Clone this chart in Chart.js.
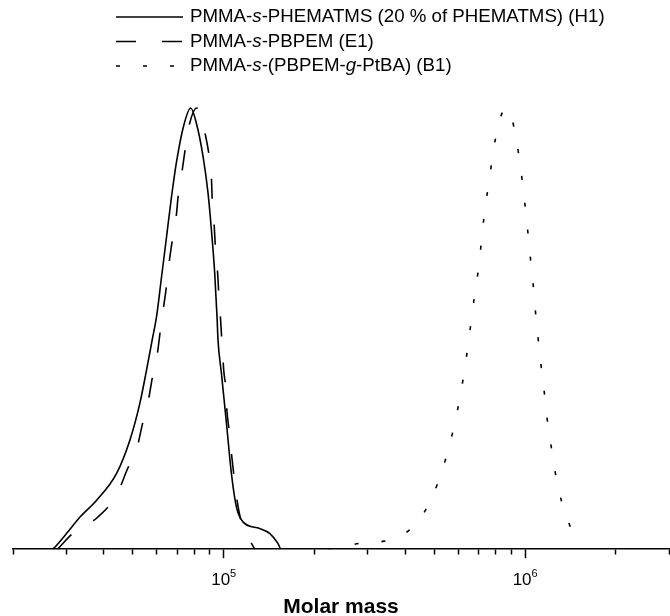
<!DOCTYPE html>
<html>
<head>
<meta charset="utf-8">
<script src="https://cdn.jsdelivr.net/npm/chart.js@4"></script>
<style>
  body { margin: 0; background: #fff; }
  #wrap { width: 670px; height: 616px; position: relative; }
</style>
</head>
<body>
<div id="wrap"><canvas id="sec-chart"></canvas></div>
<script>
// Molar mass (g/mol) and normalised detector signal
const h1Mass = [27000, 27570, 30140, 33370, 37880, 44130, 48830, 52720, 55460, 57890, 59870, 62190, 64620, 67120, 69730, 73720, 77730, 81200, 85420, 88720, 91050, 93370, 95020, 95740, 98260, 102100, 106050, 110170, 115860, 131560, 142000, 151300, 154400];
const h1Signal = [0, 0.005, 0.036, 0.073, 0.111, 0.172, 0.247, 0.331, 0.406, 0.474, 0.527, 0.617, 0.708, 0.799, 0.878, 0.961, 1.0, 0.965, 0.890, 0.807, 0.723, 0.625, 0.527, 0.474, 0.399, 0.286, 0.172, 0.096, 0.062, 0.047, 0.036, 0.013, 0];

const e1Mass = [28100, 31620, 38260, 44230, 48090, 51510, 53930, 56010, 58200, 60000, 61720, 62810, 64760, 65750, 67780, 69360, 70960, 72600, 74860, 76590, 81380, 83720, 86530, 89870, 91050, 91740, 92870, 94080, 95300, 96470, 97520, 99010, 100000, 101530, 102310, 104680, 106050, 108740, 110670, 115580, 121000, 126660];
const e1Signal = [0, 0.036, 0.073, 0.125, 0.184, 0.229, 0.288, 0.331, 0.395, 0.435, 0.499, 0.537, 0.603, 0.644, 0.707, 0.746, 0.814, 0.853, 0.916, 0.957, 1.0, 0.989, 0.946, 0.882, 0.841, 0.780, 0.739, 0.673, 0.633, 0.571, 0.526, 0.451, 0.406, 0.365, 0.320, 0.259, 0.218, 0.152, 0.111, 0.050, 0.025, 0];

const b1Mass = [222000, 239000, 280500, 332900, 400500, 466600, 512500, 548800, 578900, 604600, 626600, 646100, 664100, 683100, 704300, 718900, 737200, 760100, 783400, 815800, 865000, 895400, 938600, 967900, 992500, 1015300, 1036600, 1060500, 1079300, 1101600, 1127200, 1155800, 1182500, 1219300, 1259800, 1318800, 1416600, 1486300];
const b1Signal = [0, 0.002, 0.013, 0.017, 0.036, 0.088, 0.149, 0.212, 0.274, 0.336, 0.398, 0.461, 0.524, 0.587, 0.649, 0.712, 0.775, 0.837, 0.900, 0.964, 1.0, 0.986, 0.921, 0.859, 0.797, 0.735, 0.671, 0.608, 0.546, 0.484, 0.421, 0.359, 0.296, 0.234, 0.172, 0.110, 0.047, 0];

const seriesNames = ['PMMA-s-PHEMATMS (20 % of PHEMATMS) (H1)', 'PMMA-s-PBPEM (E1)', 'PMMA-s-(PBPEM-g-PtBA) (B1)'];
// same names split into [text, italic] runs for the legend
const legendRuns = [
    [['PMMA-', false], ['s', true], ['-PHEMATMS (20 % of PHEMATMS) (H1)', false]],
    [['PMMA-', false], ['s', true], ['-PBPEM (E1)', false]],
    [['PMMA-', false], ['s', true], ['-(PBPEM-', false], ['g', true], ['-PtBA) (B1)', false]]
];

const tickValues = [2e4, 3e4, 4e4, 5e4, 6e4, 7e4, 8e4, 9e4, 1e5, 2e5, 3e5, 4e5, 5e5, 6e5, 7e5, 8e5, 9e5, 1e6, 2e6, 3e6];
const majorTicks = [1e5, 1e6];
const majorExponents = [5, 6];

const FONT = "'Liberation Sans', Arial, sans-serif";

function toPoints(xs, ys) {
    return xs.map((x, i) => ({ x: x, y: ys[i] }));
}

// legend with italic runs, stacked in rows above the plot
const legendPlugin = {
    id: 'stackedLegend',
    afterDraw(chart) {
        const ctx = chart.ctx;
        const rowY = [17, 41.5, 66];
        ctx.save();
        chart.data.datasets.forEach((ds, i) => {
            const y = rowY[i];
            ctx.strokeStyle = '#000';
            ctx.lineWidth = ds.borderWidth;
            ctx.setLineDash(ds.borderDash || []);
            ctx.beginPath();
            ctx.moveTo(116, y);
            ctx.lineTo(183, y);
            ctx.stroke();
            ctx.setLineDash([]);

            let x = 190;
            ctx.fillStyle = '#000';
            ctx.textBaseline = 'middle';
            legendRuns[i].forEach(run => {
                ctx.font = (run[1] ? 'italic ' : '') + '18.7px ' + FONT;
                ctx.fillText(run[0], x, y);
                x += ctx.measureText(run[0]).width;
            });
        });
        ctx.restore();
    }
};

// "10^n" labels under the decade ticks
const decadeLabels = {
    id: 'decadeLabels',
    afterDraw(chart) {
        const ctx = chart.ctx;
        const xScale = chart.scales.x;
        ctx.save();
        ctx.fillStyle = '#000';
        ctx.textBaseline = 'alphabetic';
        majorTicks.forEach((v, i) => {
            const px = xScale.getPixelForValue(v);
            ctx.font = '17px ' + FONT;
            const wBase = ctx.measureText('10').width;
            ctx.font = '11px ' + FONT;
            const wExp = ctx.measureText(String(majorExponents[i])).width;
            const left = px - (wBase + wExp) / 2;
            ctx.font = '17px ' + FONT;
            ctx.fillText('10', left, 585);
            ctx.font = '11px ' + FONT;
            ctx.fillText(String(majorExponents[i]), left + wBase, 577);
        });
        ctx.restore();
    }
};

const ctx = document.getElementById('sec-chart').getContext('2d');
new Chart(ctx, {
    type: 'line',
    data: {
        datasets: [
            {
                label: seriesNames[0],
                data: toPoints(h1Mass, h1Signal),
                borderColor: '#000',
                borderWidth: 1.6,
                borderDash: []
            },
            {
                label: seriesNames[1],
                data: toPoints(e1Mass, e1Signal),
                borderColor: '#000',
                borderWidth: 1.6,
                borderDash: [20, 26]
            },
            {
                label: seriesNames[2],
                data: toPoints(b1Mass, b1Signal),
                borderColor: '#000',
                borderWidth: 1.6,
                borderDash: [4, 23]
            }
        ]
    },
    options: {
        responsive: true,
        maintainAspectRatio: false,
        animation: false,
        layout: { padding: { top: 86, left: 13, right: 1, bottom: 0 } },
        elements: {
            point: { radius: 0 },
            line: { cubicInterpolationMode: 'monotone', fill: false }
        },
        plugins: {
            legend: { display: false },
            tooltip: { enabled: false }
        },
        scales: {
            x: {
                type: 'logarithmic',
                min: 2e4,
                max: 3e6,
                afterBuildTicks: scale => {
                    scale.ticks = tickValues.map(v => ({ value: v, major: majorTicks.includes(v) }));
                },
                ticks: { display: false },
                grid: {
                    display: true,
                    drawOnChartArea: false,
                    drawTicks: true,
                    tickLength: 9,
                    tickWidth: 1.5,
                    tickColor: '#000',
                    tickBorderDash: c => (c.tick && majorTicks.includes(c.tick.value)) ? [] : [5, 20]
                },
                border: { display: true, color: '#000', width: 1.5 },
                title: {
                    display: true,
                    text: 'Molar mass',
                    color: '#000',
                    font: { family: FONT, size: 21, weight: 'bold', lineHeight: 0.8 },
                    padding: { top: 41, bottom: 0 }
                }
            },
            y: {
                display: false,
                min: 0,
                max: 1.05
            }
        }
    },
    plugins: [legendPlugin, decadeLabels]
});
</script>
</body>
</html>
